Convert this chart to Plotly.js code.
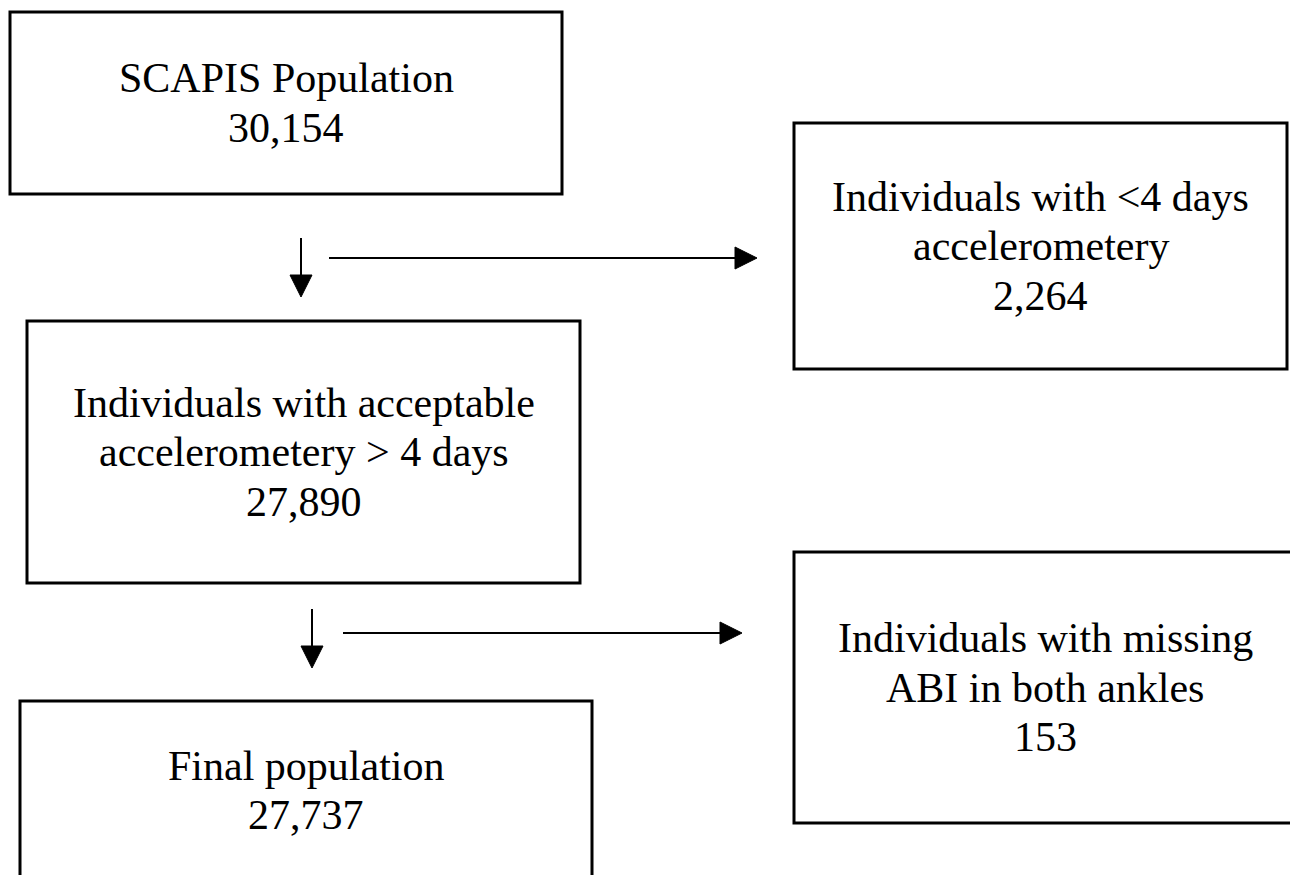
<!DOCTYPE html>
<html>
<head>
<meta charset="utf-8">
<script src="https://cdn.plot.ly/plotly-3.0.1.min.js"></script>
<style>
  html, body { margin: 0; padding: 0; background: #ffffff; }
  #chart { width: 1290px; height: 875px; }
</style>
</head>
<body>
<div id="chart"></div>
<script>
// ---- Flowchart content ----
const stageLabels = [
  ["SCAPIS Population"],
  ["Individuals with acceptable", "accelerometery &gt; 4 days"],
  ["Final population"]
];
const stageCounts = ["30,154", "27,890", "27,737"];

const excludedLabels = [
  ["Individuals with &lt;4 days", "accelerometery"],
  ["Individuals with missing", "ABI in both ankles"]
];
const excludedCounts = ["2,264", "153"];

// ---- Layout geometry (pixels, y downward) ----
const stageBoxes = [
  {x0: 10, x1: 562, y0: 12, y1: 194},
  {x0: 27, x1: 580, y0: 321, y1: 583},
  {x0: 20, x1: 592, y0: 701, y1: 880}
];
const excludedBoxes = [
  {x0: 794, x1: 1287, y0: 123, y1: 369},
  {x0: 794, x1: 1296, y0: 552, y1: 823}
];
const downArrows = [
  {x: 301, y0: 238, y1: 297},
  {x: 312, y0: 609, y1: 668}
];
const rightArrows = [
  {y: 258, x0: 329, x1: 757},
  {y: 633, x0: 343, x1: 742}
];

const FONT = {family: "Liberation Serif, Times New Roman, serif", size: 42, color: "#000000"};
const LINE_GAP = 49.5;
const HEAD = 22;

const shapes = [];
const annotations = [];

function addBox(b, lines) {
  shapes.push({
    type: "rect", xref: "x", yref: "y",
    x0: b.x0, x1: b.x1, y0: b.y0, y1: b.y1,
    line: {color: "#000000", width: 3}, fillcolor: "rgba(0,0,0,0)"
  });
  const cx = (b.x0 + b.x1) / 2;
  const cy = (b.y0 + b.y1) / 2;
  const n = lines.length;
  lines.forEach((t, i) => {
    const yMid = cy + (i - (n - 1) / 2) * LINE_GAP;
    annotations.push({
      xref: "x", yref: "y", x: cx, y: yMid,
      xanchor: "center", yanchor: "middle",
      text: t, showarrow: false, font: FONT, borderpad: 0
    });
  });
}

stageLabels.forEach((lab, i) => addBox(stageBoxes[i], lab.concat([stageCounts[i]])));
excludedLabels.forEach((lab, i) => addBox(excludedBoxes[i], lab.concat([excludedCounts[i]])));

downArrows.forEach(a => {
  shapes.push({type: "line", xref: "x", yref: "y", x0: a.x, x1: a.x, y0: a.y0, y1: a.y1 - HEAD + 2,
    line: {color: "#000000", width: 2}});
  shapes.push({type: "path", xref: "x", yref: "y",
    path: `M ${a.x - HEAD/2} ${a.y1 - HEAD} L ${a.x + HEAD/2} ${a.y1 - HEAD} L ${a.x} ${a.y1} Z`,
    fillcolor: "#000000", line: {color: "#000000", width: 1}});
});
rightArrows.forEach(a => {
  shapes.push({type: "line", xref: "x", yref: "y", x0: a.x0, x1: a.x1 - HEAD + 2, y0: a.y, y1: a.y,
    line: {color: "#000000", width: 2}});
  shapes.push({type: "path", xref: "x", yref: "y",
    path: `M ${a.x1 - HEAD} ${a.y - HEAD/2} L ${a.x1 - HEAD} ${a.y + HEAD/2} L ${a.x1} ${a.y} Z`,
    fillcolor: "#000000", line: {color: "#000000", width: 1}});
});

const layout = {
  width: 1290, height: 875,
  margin: {l: 0, r: 0, t: 0, b: 0, pad: 0},
  paper_bgcolor: "#ffffff", plot_bgcolor: "#ffffff",
  showlegend: false,
  xaxis: {range: [0, 1290], visible: false, fixedrange: true},
  yaxis: {range: [875, 0], visible: false, fixedrange: true},
  shapes: shapes,
  annotations: annotations
};

Plotly.newPlot("chart", [{x: [], y: [], type: "scatter", mode: "markers", hoverinfo: "skip"}], layout,
  {staticPlot: true, displayModeBar: false});
</script>
</body>
</html>
